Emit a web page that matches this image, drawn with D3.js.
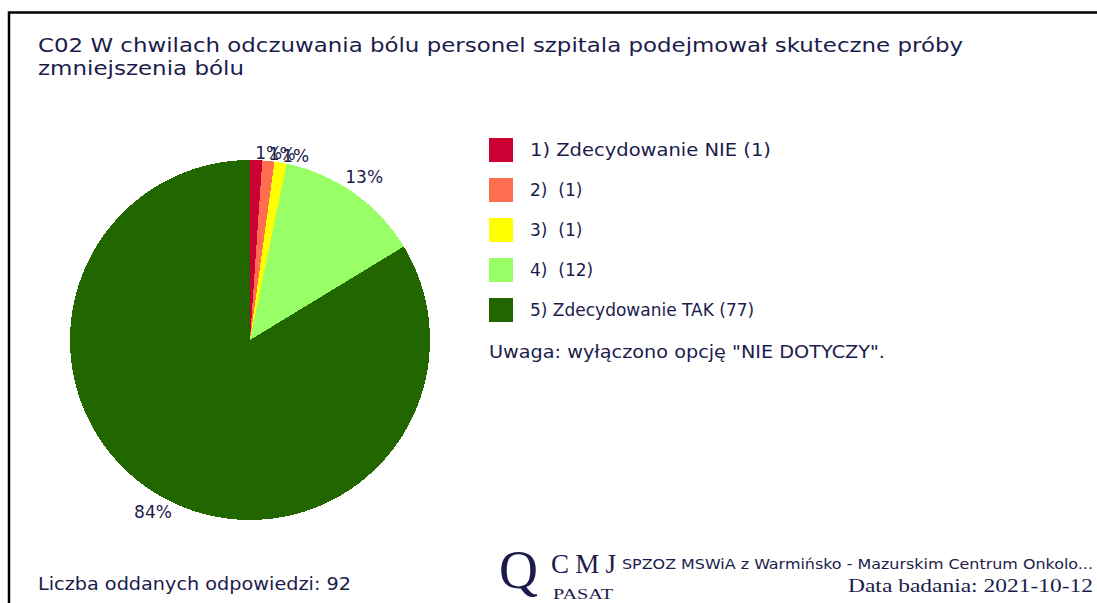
<!DOCTYPE html>
<html>
<head>
<meta charset="utf-8">
<script src="https://cdn.jsdelivr.net/npm/d3@7.9.0/dist/d3.min.js"></script>
<style>
  body { margin: 0; background: #fff; }
  svg { display: block; }
  text { font-family: "DejaVu Sans", Verdana, sans-serif; fill: #1c1c4c; }
</style>
</head>
<body>
<svg width="1097" height="603"></svg>
<script>
// data
const categories = ['1) Zdecydowanie NIE', '2) ', '3) ', '4) ', '5) Zdecydowanie TAK'];
const counts = [1, 1, 1, 12, 77];
const percentLabels = ['1%', '1%', '1%', '13%', '84%'];
const colors = ['#cc0033', '#ff6f4f', '#ffff00', '#99ff66', '#226600'];

const titleLines = ['C02 W chwilach odczuwania bólu personel szpitala podejmował skuteczne próby', 'zmniejszenia bólu'];
const total = d3.sum(counts);

const svg = d3.select('svg');

// frame
svg.append('path')
  .attr('d', 'M9,603 V12.5 H1097')
  .attr('fill', 'none')
  .attr('stroke', '#000')
  .attr('stroke-width', 2.5);

// title
svg.append('text').attr('x', 38).attr('y', 52).attr('font-size', 19)
  .attr('textLength', 925).attr('lengthAdjust', 'spacingAndGlyphs')
  .text(titleLines[0]);
svg.append('text').attr('x', 38).attr('y', 75).attr('font-size', 19)
  .attr('textLength', 206).attr('lengthAdjust', 'spacingAndGlyphs')
  .text(titleLines[1]);

// pie
const cx = 250, cy = 340, r = 180;
const pie = d3.pie().sort(null).value(d => d);
const arcs = pie(counts);
const arc = d3.arc().innerRadius(0).outerRadius(r);
const labelArc = d3.arc().innerRadius(198).outerRadius(198);

const g = svg.append('g').attr('transform', `translate(${cx},${cy})`);
g.selectAll('path')
  .data(arcs)
  .join('path')
  .attr('d', arc)
  .attr('fill', (d, i) => colors[i])
  .attr('shape-rendering', 'crispEdges');

// the three small slices share one spot, as in the original
g.selectAll('text.pct')
  .data(arcs)
  .join('text')
  .attr('class', 'pct')
  .attr('font-size', 17)
  .attr('text-anchor', 'middle')
  .attr('dominant-baseline', 'middle')
  .attr('transform', (d, i) => {
    const [x, y] = labelArc.centroid(d);
    return `translate(${x + (i < 3 ? 12 : 0)},${i < 3 ? y + 12 : y})`;
  })
  .text((d, i) => percentLabels[i]);

// legend
const legend = svg.append('g').attr('transform', 'translate(489,138)');
const rows = legend.selectAll('g')
  .data(categories)
  .join('g')
  .attr('transform', (d, i) => `translate(0,${i * 40})`);
rows.append('rect')
  .attr('width', 24).attr('height', 24)
  .attr('fill', (d, i) => colors[i]);
rows.append('text')
  .attr('x', 41).attr('y', 18)
  .attr('font-size', 17)
  .style('white-space', 'pre')
  .text((d, i) => `${d} (${counts[i]})`);
legend.select('g:nth-child(1) text').attr('textLength', 237).attr('lengthAdjust', 'spacingAndGlyphs');
legend.select('g:nth-child(5) text').attr('textLength', 241).attr('lengthAdjust', 'spacingAndGlyphs');

svg.append('text').attr('x', 489).attr('y', 358).attr('font-size', 17)
  .attr('textLength', 396).attr('lengthAdjust', 'spacingAndGlyphs')
  .text('Uwaga: wyłączono opcję "NIE DOTYCZY".');

// footer
svg.append('text').attr('x', 38).attr('y', 590).attr('font-size', 17)
  .attr('textLength', 313).attr('lengthAdjust', 'spacingAndGlyphs')
  .text('Liczba oddanych odpowiedzi: ' + total);

const logo = svg.append('g');
logo.append('text').attr('x', 499).attr('y', 588).attr('font-size', 54)
  .style('font-family', '"Liberation Serif", serif').text('Q');
logo.append('text').attr('x', 551).attr('y', 573).attr('font-size', 27)
  .style('font-family', '"Liberation Serif", serif')
  .attr('textLength', 65).attr('lengthAdjust', 'spacing').text('CMJ');
logo.append('text').attr('x', 553).attr('y', 599).attr('font-size', 15)
  .style('font-family', '"Liberation Serif", serif')
  .attr('textLength', 60).attr('lengthAdjust', 'spacingAndGlyphs').text('PASAT');

svg.append('text').attr('x', 622).attr('y', 569).attr('font-size', 14)
  .attr('textLength', 471).attr('lengthAdjust', 'spacingAndGlyphs')
  .text('SPZOZ MSWiA z Warmińsko - Mazurskim Centrum Onkolo...');
svg.append('text').attr('x', 1093).attr('y', 592).attr('font-size', 18)
  .attr('text-anchor', 'end')
  .style('font-family', '"Liberation Serif", serif')
  .attr('textLength', 245).attr('lengthAdjust', 'spacingAndGlyphs')
  .text('Data badania: 2021-10-12');
</script>
</body>
</html>
